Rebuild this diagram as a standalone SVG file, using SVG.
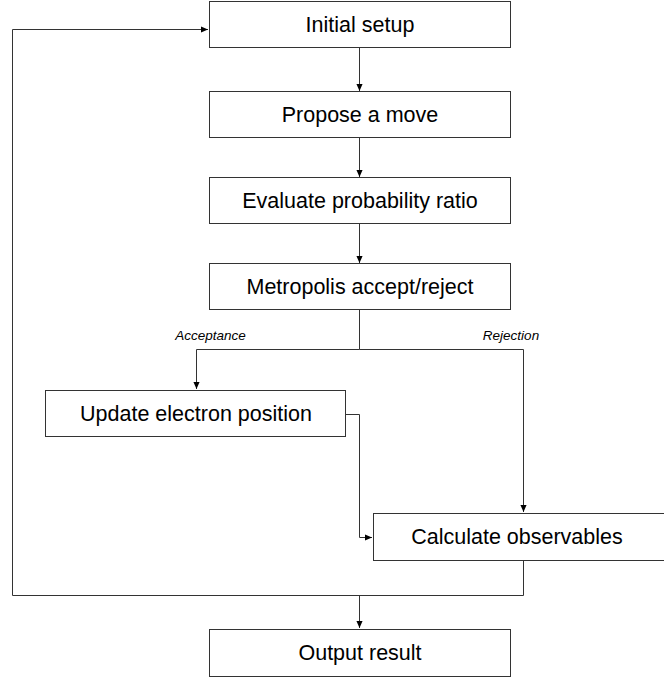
<svg xmlns="http://www.w3.org/2000/svg" width="664" height="680" viewBox="0 0 664 680">
<style>
.box{fill:#fff;stroke:#333;stroke-width:1}
.t{font-family:"Liberation Sans",Arial,sans-serif;font-size:21.5px;fill:#000;text-anchor:middle;dominant-baseline:central}
.lbl{font-family:"Liberation Sans",Arial,sans-serif;font-size:13.5px;font-style:italic;fill:#000;text-anchor:middle}
.c{fill:none;stroke:#333;stroke-width:1}
</style>
<defs>
<marker id="ah" viewBox="0 0 8 8" refX="8" refY="4" markerWidth="7" markerHeight="7" markerUnits="userSpaceOnUse" orient="auto">
<path d="M0,0.5 L8,4 L0,7.5 Z" fill="#000"/>
</marker>
</defs>
<rect width="664" height="680" fill="#fff"/>
<g id="connectors">
<path class="c" d="M359.5,48 V91" marker-end="url(#ah)"/>
<path class="c" d="M359.5,137 V177" marker-end="url(#ah)"/>
<path class="c" d="M359.5,224 V263" marker-end="url(#ah)"/>
<path class="c" d="M359.5,309 V349.5 H196.5 V389" marker-end="url(#ah)"/>
<path class="c" d="M359.5,349.5 H523.5 V512" marker-end="url(#ah)"/>
<path class="c" d="M346,414.5 H359.5 V537.5 H372" marker-end="url(#ah)"/>
<path class="c" d="M523.5,561 V595.5 H12.5 V29.5 H208" marker-end="url(#ah)"/>
<path class="c" d="M359.5,595.5 V628" marker-end="url(#ah)"/>
<text class="lbl" x="210.5" y="340">Acceptance</text>
<text class="lbl" x="511" y="340">Rejection</text>
</g>
<g id="n1"><rect class="box" x="209.5" y="1.5" width="301" height="46"/><text class="t" x="360" y="24.5">Initial setup</text></g>
<g id="n2"><rect class="box" x="209.5" y="91.5" width="301" height="46"/><text class="t" x="360" y="114.5">Propose a move</text></g>
<g id="n3"><rect class="box" x="209.5" y="177.5" width="301" height="46"/><text class="t" x="360" y="200.5">Evaluate probability ratio</text></g>
<g id="n4"><rect class="box" x="209.5" y="263.5" width="301" height="46"/><text class="t" x="360" y="286.5">Metropolis accept/reject</text></g>
<g id="n5"><rect class="box" x="45.5" y="390.5" width="300" height="46"/><text class="t" x="196" y="413.5">Update electron position</text></g>
<g id="n6"><rect class="box" x="373.5" y="513.5" width="300" height="47"/><text class="t" x="517" y="537">Calculate observables</text></g>
<g id="n7"><rect class="box" x="209.5" y="629.5" width="301" height="47"/><text class="t" x="360" y="653">Output result</text></g>
</svg>
